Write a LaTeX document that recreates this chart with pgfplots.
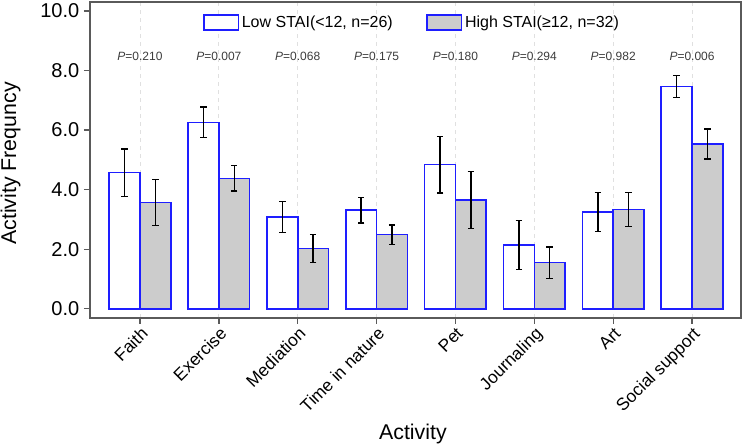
\documentclass[border=0pt]{standalone}
\usepackage{pgfplots}
\usepackage{pgfplotstable}
\pgfplotsset{compat=1.18}
\usepackage{fontspec}
\setmainfont{Liberation Sans}

\definecolor{barblue}{RGB}{30,30,255}
\definecolor{barfill}{RGB}{204,204,204}
\definecolor{framegray}{RGB}{90,90,90}
\definecolor{ptext}{RGB}{60,60,60}

% mean activity frequency and error (half-length) per group
\pgfplotstableread{
x low lowerr high higherr
0 4.57 0.80 3.57 0.77
1 6.26 0.51 4.38 0.43
2 3.08 0.52 2.02 0.47
3 3.31 0.43 2.49 0.33
4 4.84 0.95 3.65 0.95
5 2.14 0.82 1.55 0.53
6 3.25 0.65 3.33 0.57
7 7.46 0.37 5.53 0.50
}\activity

% P values of the group comparison, one per activity
\pgfplotstableread{
x y p
0 8.48 0.210
1 8.48 0.007
2 8.48 0.068
3 8.48 0.175
4 8.48 0.180
5 8.48 0.294
6 8.48 0.982
7 8.48 0.006
}\pvalues

\pgfplotsset{
  boxlegend/.style={
    legend image code/.code={
      \draw[##1,/tikz/.cd,line width=1.2pt] (0pt,-5.6pt) rectangle (26pt,5.6pt);
    }
  },
  grouperr/.style={
    error bars/.cd, y dir=both, y explicit,
    error bar style={black, line width=1.1pt},
    error mark options={black, line width=1.1pt, mark size=2.4pt, rotate=90}
  }
}

\begin{document}
\begin{tikzpicture}
\begin{axis}[
  at={(0,0)}, anchor=south west,
  scale only axis, width=488.25pt, height=237pt,
  xmin=-0.634, xmax=7.621, ymin=-0.31, ymax=10.30,
  axis line style={framegray, line width=1.1pt},
  xtick={0,...,7},
  xticklabels={Faith,Exercise,Mediation,Time in nature,Pet,Journaling,Art,Social support},
  ytick={0,2,...,10},
  xtick pos=left, ytick pos=left,
  tick align=outside, major tick length=4.5pt,
  tick style={framegray, line width=1pt},
  xmajorgrids=true,
  major grid style={dashed, black!12, line width=0.6pt},
  yticklabel style={/pgf/number format/.cd, fixed, fixed zerofill, precision=1,
    assume math mode=true, /tikz/.cd, font=\fontsize{15}{18}\selectfont},
  xticklabel style={rotate=45, anchor=north east, inner sep=1pt,
    font=\fontsize{13}{15}\selectfont},
  xlabel={Activity},
  ylabel={Activity Frequncy},
  xlabel style={at={(0.496,-0.367)}, anchor=center, font=\fontsize{16}{19}\selectfont},
  ylabel style={at={(-0.122,0.489)}, anchor=center, font=\fontsize{16}{19}\selectfont},
  legend columns=2,
  legend style={draw=none, fill=none, at={(0.495,0.935)}, anchor=center,
    font=\fontsize{12}{14}\selectfont,
    /tikz/every even column/.append style={column sep=23pt},
    nodes={inner sep=2pt}},
]
% bars sit side by side, 0.39 wide, each centred 0.195 off its category
\addplot[ybar, bar width=0.39, bar shift=0pt, draw=barblue, fill=white,
  line width=1.2pt, boxlegend, grouperr]
  table[x expr=\thisrow{x}-0.195, y=low, y error=lowerr] {\activity};
\addlegendentry{Low STAI(<12, n=26)}
\addplot[ybar, bar width=0.39, bar shift=0pt, draw=barblue, fill=barfill,
  line width=1.2pt, boxlegend, grouperr]
  table[x expr=\thisrow{x}+0.195, y=high, y error=higherr] {\activity};
\addlegendentry{High STAI(≥12, n=32)}
\addplot[only marks, mark=none, forget plot,
  point meta=explicit symbolic,
  nodes near coords={\textit{P}=\pgfplotspointmeta},
  nodes near coords style={anchor=center, text=ptext,
    font=\fontsize{9}{11}\selectfont}]
  table[x=x, y=y, meta=p] {\pvalues};
\end{axis}
\pgfresetboundingbox
\path[use as bounding box] (-67.5pt,-97.5pt) rectangle (490.5pt,238.5pt);
\end{tikzpicture}
\end{document}
